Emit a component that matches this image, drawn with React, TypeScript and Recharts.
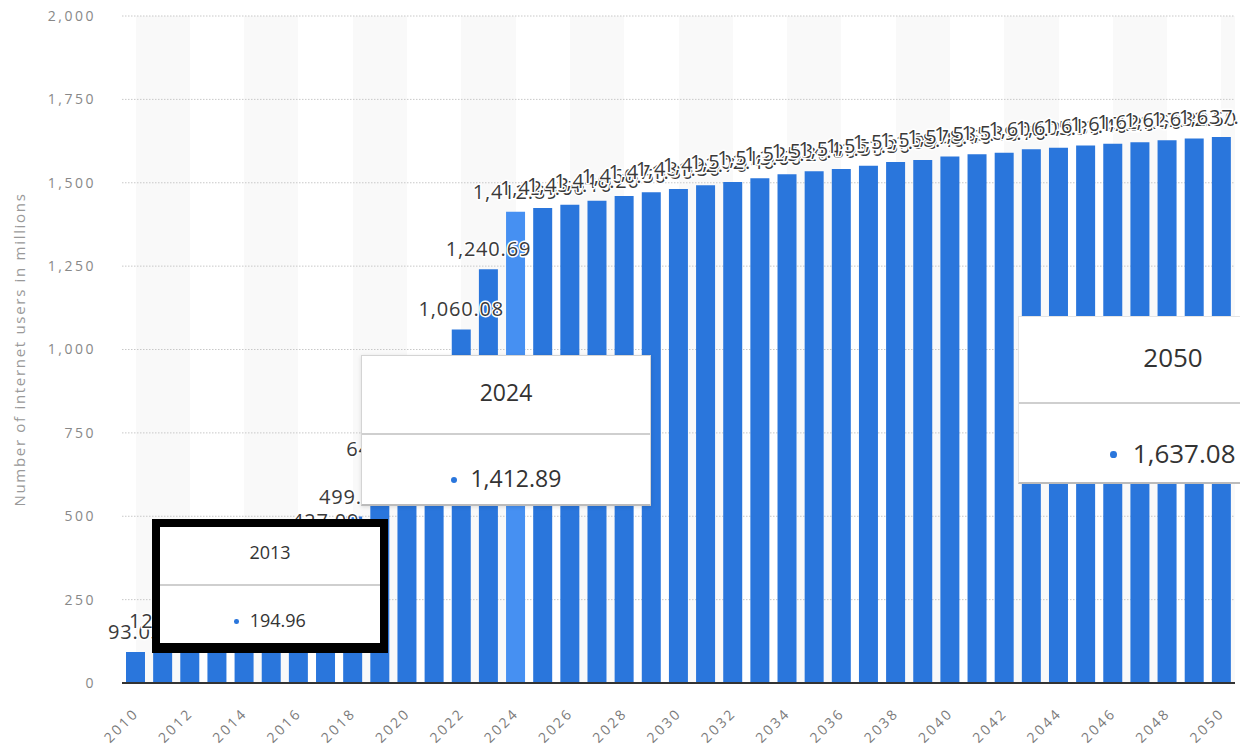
import React from 'react'
import { BarChart, Bar, XAxis, YAxis, CartesianGrid, LabelList, Cell } from 'recharts'

// years on the category axis
const years = [
  '2010', '2011', '2012', '2013', '2014', '2015', '2016', '2017', '2018', '2019',
  '2020', '2021', '2022', '2023', '2024', '2025', '2026', '2027', '2028', '2029',
  '2030', '2031', '2032', '2033', '2034', '2035', '2036', '2037', '2038', '2039',
  '2040', '2041', '2042', '2043', '2044', '2045', '2046', '2047', '2048', '2049',
  '2050',
]

// internet users in millions
const users = [
  93.03, 127.35, 158.16, 194.96, 241.4, 295.1, 357.2, 427.09, 499.23, 641.3,
  770.5, 895.2, 1060.08, 1240.69, 1412.89, 1424.6, 1434.1, 1446.2, 1460.5, 1471.8,
  1481.3, 1492.7, 1502.4, 1513.6, 1525.2, 1534.8, 1541.5, 1551.3, 1561.9, 1568.4,
  1578.6, 1585.1, 1589.7, 1600.2, 1605.3, 1611.4, 1617.2, 1621.6, 1627.3, 1632.5,
  1637.08,
]

const yTicks = [0, 250, 500, 750, 1000, 1250, 1500, 1750, 2000]
const highlighted = '2024'

const data = years.map((year, i) => ({ year, users: users[i] }))

const BLUE = '#2a76dc'
const BLUE_HOVER = '#4690f2'

const fmt = (v: number) => v.toLocaleString('en-US', { minimumFractionDigits: 2, maximumFractionDigits: 2 })

// static tooltip boxes as seen in the screenshot
const tips = [
  { year: '2013', left: 152, top: 519, width: 236, height: 134, border: '8px solid #000', borderBottom: '10px solid #000', headerY: 26, sepY: 57, valueY: 94, size: 18, shadow: 'none' },
  { year: '2024', left: 361, top: 355, width: 290, height: 151, border: '1px solid #d4d4d4', borderBottom: '2px solid #bbb', headerY: 36, sepY: 77, valueY: 122, size: 23, shadow: '0 1px 4px rgba(0,0,0,0.12)' },
  { year: '2050', left: 1018, top: 316, width: 310, height: 168, border: '1px solid #e4e4e4', borderBottom: '2px solid #bbb', headerY: 40, sepY: 85, valueY: 136, size: 26, shadow: 'none' },
]

function Tip({ t }: { t: (typeof tips)[number] }) {
  const idx = years.indexOf(t.year)
  const lh = t.size * 1.4
  return (
    <div
      style={{
        position: 'absolute', left: t.left, top: t.top, width: t.width, height: t.height,
        boxSizing: 'border-box', background: '#fff', border: t.border, borderBottom: t.borderBottom,
        boxShadow: t.shadow, color: '#333',
      }}
    >
      <div style={{ position: 'absolute', left: 0, right: 0, top: t.headerY - lh / 2, lineHeight: `${lh}px`, fontSize: t.size, textAlign: 'center', fontWeight: 500 }}>
        {years[idx]}
      </div>
      <div style={{ position: 'absolute', left: 0, right: 0, top: t.sepY, height: 1.5, background: '#cfcfcf' }} />
      <div style={{ position: 'absolute', left: 0, right: 0, top: t.valueY - lh / 2, lineHeight: `${lh}px`, fontSize: t.size, textAlign: 'center' }}>
        <span style={{ display: 'inline-block', width: t.size * 0.26, height: t.size * 0.26, borderRadius: '50%', background: BLUE, marginRight: t.size * 0.6, verticalAlign: 'middle', position: 'relative', top: -1 }} />
        {fmt(users[idx])}
      </div>
    </div>
  )
}

function YearTick(props: any) {
  const { x, y, payload } = props
  return (
    <g transform={`translate(${x - 3},${y})`}>
      <text transform="rotate(-45)" textAnchor="end" dy="0.71em" fill="#7a7a7a" fontSize={14} letterSpacing={2.5}>
        {payload.value}
      </text>
    </g>
  )
}

export default function App() {
  return (
    <div style={{ position: 'absolute', left: 0, top: 0, width: 1240, height: 754, overflow: 'hidden', background: '#fff', fontFamily: '"Open Sans", sans-serif' }}>
      <style>{`.recharts-label-list text { paint-order: stroke; stroke: #fff; stroke-width: 3px; stroke-linejoin: round; }`}</style>
      <BarChart width={1240} height={754} data={data} margin={{ top: 16, right: 5, bottom: 0, left: 0 }}>
        <CartesianGrid horizontal={false} stroke="none" verticalFill={['#ffffff', '#f9f9f9']} />
        <CartesianGrid vertical={false} stroke="#c8c8c8" strokeDasharray="1.5 1.5" />
        <XAxis
          dataKey="year"
          interval={1}
          height={71}
          tickSize={0}
          tickMargin={24}
          axisLine={{ stroke: '#333', strokeWidth: 2 }}
          tickLine={false}
          tick={<YearTick />}
        />
        <YAxis
          domain={[0, 2000]}
          ticks={yTicks}
          width={122}
          tickSize={0}
          tickMargin={26}
          axisLine={false}
          tickLine={false}
          tickFormatter={(v: number) => v.toLocaleString('en-US')}
          tick={{ fill: '#888', fontSize: 14, letterSpacing: 2.5 }}
          label={{ value: 'Number of internet users in millions', angle: -90, position: 'insideLeft', offset: 20, fill: '#999', fontSize: 15, letterSpacing: 1.7, style: { textAnchor: 'middle' } }}
        />
        <Bar dataKey="users" barSize={19} fill={BLUE} isAnimationActive={false}>
          {data.map((d) => (
            <Cell key={d.year} fill={d.year === highlighted ? BLUE_HOVER : BLUE} />
          ))}
          <LabelList dataKey="users" position="top" offset={13} formatter={(v: any) => fmt(Number(v))} fill="#3a3a3a" fontSize={20} letterSpacing={0.8} />
        </Bar>
      </BarChart>
      {tips.map((t) => (
        <Tip key={t.year} t={t} />
      ))}
    </div>
  )
}
